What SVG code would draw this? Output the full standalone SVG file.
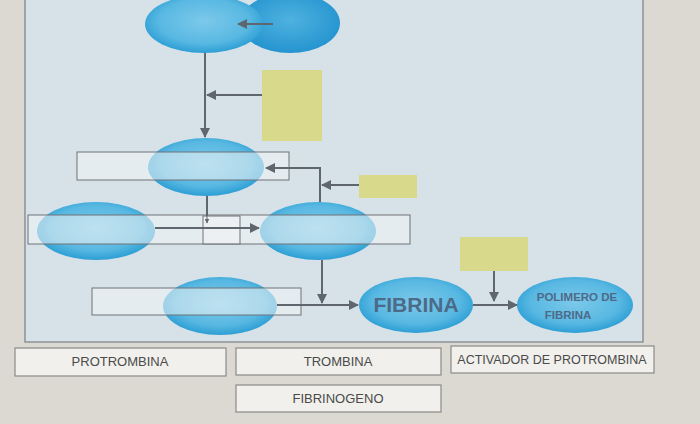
<svg xmlns="http://www.w3.org/2000/svg" width="700" height="424" viewBox="0 0 700 424">
<style>
.ell{fill:url(#eg);}
.ov{fill:#f2f4f4;fill-opacity:0.55;stroke:#6f7378;stroke-width:1;}
.yb{fill:#d9d98c;}
.ln{fill:none;stroke:#5f666d;stroke-width:2;}
.lbl{fill:#f1f0ec;stroke:#8a8a88;stroke-width:1.2;}
.lt{font-family:"Liberation Sans",Arial,sans-serif;font-size:13px;fill:#4a4a4a;text-anchor:middle;}
.bt{font-family:"Liberation Sans",Arial,sans-serif;font-weight:bold;fill:#4d6a88;text-anchor:middle;}
</style>
<defs>
<radialGradient id="eg" cx="50%" cy="45%" r="55%">
<stop offset="0" stop-color="#7cc9ea"/>
<stop offset="0.7" stop-color="#58b8e2"/>
<stop offset="1" stop-color="#2c9ed4"/>
</radialGradient>
<radialGradient id="eg2" cx="50%" cy="45%" r="55%">
<stop offset="0" stop-color="#4fb2e0"/>
<stop offset="1" stop-color="#2594cf"/>
</radialGradient>
<marker id="ah" viewBox="0 0 10 10" refX="9" refY="5" markerWidth="5" markerHeight="5" orient="auto">
<path d="M0,0 L10,5 L0,10 z" fill="#5f666d"/>
</marker>
</defs>
<rect x="0" y="0" width="700" height="424" fill="#dcd9d2"/>
<rect x="25" y="-2" width="618" height="344" fill="#d6e2e8" stroke="#7a7f84" stroke-width="1.2"/>
<g id="n-top-right"><ellipse cx="290" cy="23" rx="50" ry="30" fill="url(#eg2)"/></g>
<g id="n-top-left"><ellipse class="ell" cx="204" cy="24" rx="59" ry="29"/></g>
<g id="n-y1"><rect class="yb" x="262" y="70" width="60" height="71"/></g>
<g id="n-e3"><ellipse class="ell" cx="206" cy="167" rx="58" ry="29"/></g>
<g id="n-y2"><rect class="yb" x="359" y="175" width="58" height="23"/></g>
<g id="n-e5"><ellipse class="ell" cx="96" cy="231" rx="59" ry="29"/></g>
<g id="n-e4"><ellipse class="ell" cx="318" cy="231" rx="58" ry="29"/></g>
<g id="n-y3"><rect class="yb" x="460" y="237" width="68" height="34"/></g>
<g id="n-e6"><ellipse class="ell" cx="220" cy="306" rx="57" ry="29"/></g>
<g id="n-fibrina"><ellipse class="ell" cx="416" cy="305" rx="57" ry="28"/><text class="bt" x="416" y="312" style="font-size:21px">FIBRINA</text></g>
<g id="n-polimero"><ellipse class="ell" cx="575" cy="305" rx="58" ry="28"/><text class="bt" x="577" y="301" style="font-size:11.5px">POLIMERO DE</text><text class="bt" x="568" y="319" style="font-size:11.5px">FIBRINA</text></g>
<g id="overlays">
<rect class="ov" x="77" y="152" width="212" height="28"/>
<rect class="ov" x="28" y="215" width="382" height="29"/>
<rect class="ov" x="203" y="216" width="37" height="28"/>
<rect class="ov" x="92" y="288" width="209" height="27"/>
</g>
<g id="connectors">
<line class="ln" x1="273" y1="24" x2="238" y2="24" marker-end="url(#ah)"/>
<line class="ln" x1="205" y1="53" x2="205" y2="137" marker-end="url(#ah)"/>
<line class="ln" x1="262" y1="95" x2="207" y2="95" marker-end="url(#ah)"/>
<polyline class="ln" points="320,202 320,168 266,168" marker-end="url(#ah)"/>
<line class="ln" x1="359" y1="185" x2="322" y2="185" marker-end="url(#ah)"/>
<line class="ln" x1="207" y1="196" x2="207" y2="216"/>
<line class="ln" x1="207" y1="216" x2="207" y2="223" marker-end="url(#ah)" style="stroke-width:1"/>
<line class="ln" x1="155" y1="228" x2="259" y2="228" marker-end="url(#ah)"/>
<line class="ln" x1="322" y1="260" x2="322" y2="303" marker-end="url(#ah)"/>
<line class="ln" x1="277" y1="305" x2="358" y2="305" marker-end="url(#ah)"/>
<line class="ln" x1="473" y1="305" x2="517" y2="305" marker-end="url(#ah)"/>
<line class="ln" x1="494" y1="271" x2="494" y2="301" marker-end="url(#ah)"/>
</g>
<g id="l-protrombina"><rect class="lbl" x="15" y="348" width="211" height="28"/><text class="lt" x="120" y="366">PROTROMBINA</text></g>
<g id="l-trombina"><rect class="lbl" x="236" y="348" width="205" height="27"/><text class="lt" x="338" y="366">TROMBINA</text></g>
<g id="l-fibrinogeno"><rect class="lbl" x="236" y="385" width="205" height="27"/><text class="lt" x="338" y="403">FIBRINOGENO</text></g>
<g id="l-activador"><rect class="lbl" x="451" y="346" width="203" height="27"/><text class="lt" x="552" y="364" style="font-size:12.5px">ACTIVADOR DE PROTROMBINA</text></g>
</svg>
